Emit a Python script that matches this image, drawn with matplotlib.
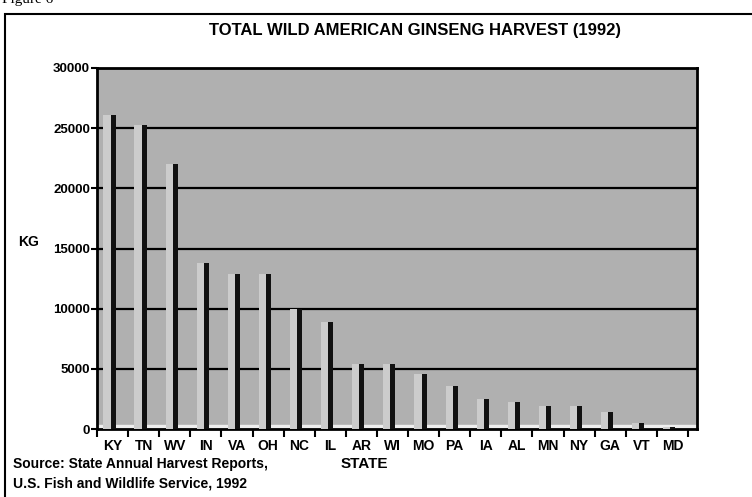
import numpy as np
import matplotlib
matplotlib.use('Agg')
import matplotlib.pyplot as plt
from matplotlib.patches import Rectangle

states = ['KY', 'TN', 'WV', 'IN', 'VA', 'OH', 'NC', 'IL', 'AR', 'WI',
          'MO', 'PA', 'IA', 'AL', 'MN', 'NY', 'GA', 'VT', 'MD']
harvest_kg = [26100, 25300, 22000, 13800, 12900, 12850, 10000, 8900, 5400, 5400,
              4600, 3600, 2500, 2250, 1900, 1900, 1400, 500, 200]
y_ticks = [0, 5000, 10000, 15000, 20000, 25000, 30000]

plt.rcParams['font.family'] = ['Liberation Sans', 'DejaVu Sans']

fig = plt.figure(figsize=(7.52, 4.97), dpi=100)
ax = fig.add_axes([97 / 752, 1 - 429 / 497, 600 / 752, 361 / 497])

x = np.arange(len(states))
ax.set_facecolor('#b0b0b0')
ax.set_axisbelow(True)
ax.yaxis.grid(True, color='black', linewidth=1.6)
ax.axhspan(0, 300, color='#eeeeee', zorder=1)

# dark body of each bar, then a lighter front face
ax.bar(x - 0.10, harvest_kg, width=0.39, color='#111111', zorder=3)
ax.bar(x - 0.18, harvest_kg, width=0.23, color='#cccccc', zorder=4)

ax.set_xlim(-0.5, 18.79)
ax.set_ylim(0, 30000)
ax.set_yticks(y_ticks)
ax.set_yticklabels([str(t) for t in y_ticks], fontsize=9.5, fontweight='bold')
ax.set_xticks(x)
ax.set_xticklabels(states, fontsize=10, fontweight='bold')
ax.tick_params(axis='x', which='major', length=0, pad=7)
ax.set_xticks(np.arange(-0.5, 19.0, 1.0), minor=True)
ax.tick_params(axis='x', which='minor', length=6, width=1.5, direction='out')
ax.tick_params(axis='y', length=4, width=1.5, direction='out', pad=1)

for side in ['left', 'right', 'top', 'bottom']:
    ax.spines[side].set_linewidth(2)
    ax.spines[side].set_color('black')

fig.text(415 / 752, 1 - 31 / 497, 'TOTAL WILD AMERICAN GINSENG HARVEST (1992)',
         ha='center', va='center', fontsize=12, fontweight='bold')
fig.text(29 / 752, 1 - 242 / 497, 'KG', ha='center', va='center',
         fontsize=10, fontweight='bold')
fig.text(364 / 752, 1 - 464 / 497, 'STATE', ha='center', va='center',
         fontsize=11, fontweight='bold')
fig.text(13 / 752, 1 - 464 / 497, 'Source: State Annual Harvest Reports,',
         ha='left', va='center', fontsize=10, fontweight='bold')
fig.text(13 / 752, 1 - 484 / 497, 'U.S. Fish and Wildlife Service, 1992',
         ha='left', va='center', fontsize=10, fontweight='bold')
fig.text(2 / 752, 1.0, 'Figure 6', ha='left', va='center',
         fontsize=11, family='Liberation Serif')

# outer frame of the figure
fig.patches.append(Rectangle((5 / 752, -0.05), 1.0, 1 - 14 / 497 + 0.05,
                             transform=fig.transFigure, fill=False,
                             edgecolor='black', linewidth=1.5))

fig.savefig('out.png', dpi=100)
